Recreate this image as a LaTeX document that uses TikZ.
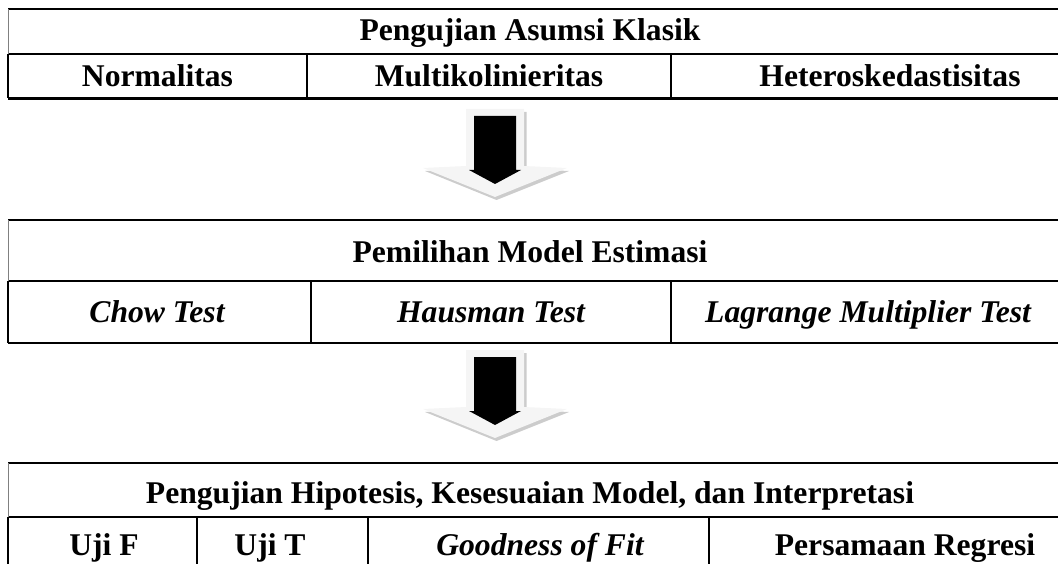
\documentclass[tikz,border=0pt]{standalone}
\usepackage{fontspec}
\setmainfont{Liberation Serif}
\usetikzlibrary{positioning,calc}

\begin{document}
\begin{tikzpicture}[
  x=0.02cm, y=-0.02cm,
  cell/.style={anchor=base, inner sep=0pt, font=\fontsize{18}{22}\selectfont\bfseries},
  icell/.style={cell, font=\fontsize{18}{22}\selectfont\bfseries\itshape},
  rule/.style={line width=1.2pt, black},
  thinrule/.style={line width=0.5pt, gray},
  bevel/.style={fill=gray!8},
  shade/.style={fill=gray!40},
  core/.style={fill=black}
]
\useasboundingbox (0,0) rectangle (1058,564);
\clip (0,0) rectangle (1058,564);

% Tabel 1: asumsi klasik
\draw[rule] (8,9) -- (1070,9);
\draw[rule] (8,54) -- (1070,54);
\draw[rule] (8,98.5) -- (1070,98.5);
\draw[thinrule] (8,9) -- (8,54);
\draw[rule] (8,54) -- (8,98.5);
\draw[rule] (307,54) -- (307,98.5);
\draw[rule] (671,54) -- (671,98.5);

\node[cell] (asumsi) at (530,41) {Pengujian Asumsi Klasik};
\node[cell] (normal) at (157.5,87) {Normalitas};
\node[cell] (multi) at (489,87) {Multikolinieritas};
\node[cell] (hetero) at (890,87) {Heteroskedastisitas};

% Tabel 2: pemilihan model
\draw[rule] (8,220) -- (1070,220);
\draw[rule] (8,281) -- (1070,281);
\draw[rule] (8,343) -- (1070,343);
\draw[thinrule] (8,220) -- (8,281);
\draw[rule] (8,281) -- (8,343);
\draw[rule] (311,281) -- (311,343);
\draw[rule] (671,281) -- (671,343);

\node[cell] (model) at (530,262) {Pemilihan Model Estimasi};
\node[icell] (chow) at (157,322) {Chow Test};
\node[icell] (hausman) at (491,322) {Hausman Test};
\node[icell] (lm) at (868,322) {Lagrange Multiplier Test};

% Tabel 3: hipotesis
\draw[rule] (8,463) -- (1070,463);
\draw[rule] (8,517) -- (1070,517);
\draw[thinrule] (8,463) -- (8,517);
\draw[rule] (8,517) -- (8,570);
\draw[rule] (197,517) -- (197,570);
\draw[rule] (368,517) -- (368,570);
\draw[rule] (709,517) -- (709,570);

\node[cell] (hipotesis) at (530,503) {Pengujian Hipotesis, Kesesuaian Model, dan Interpretasi};
\node[cell] (ujif) at (104,555) {Uji F};
\node[cell] (ujit) at (270,555) {Uji T};
\node[icell] (gof) at (540,555) {Goodness of Fit};
\node[cell] (regresi) at (905,555) {Persamaan Regresi};

% Panah blok antar tabel
\coordinate (arrA) at (495,109);
\coordinate (arrB) at (495,350);
\foreach \p in {arrA,arrB}{
  \begin{scope}[shift={(\p)}]
    \path[shade] (-27.5,3) -- (31.5,3) -- (31.5,60) -- (74,62) -- (1.5,91) -- (-70,62) -- (-27.5,60) -- cycle;
    \path[bevel] (-29,0) -- (29,0) -- (29,57) -- (72,59) -- (0,88) -- (-72,59) -- (-29,57) -- cycle;
    \path[core] (-21,7) -- (21,7) -- (21,61) -- (26,61) -- (0,75) -- (-26,61) -- (-21,61) -- cycle;
  \end{scope}
}

\end{tikzpicture}
\end{document}
